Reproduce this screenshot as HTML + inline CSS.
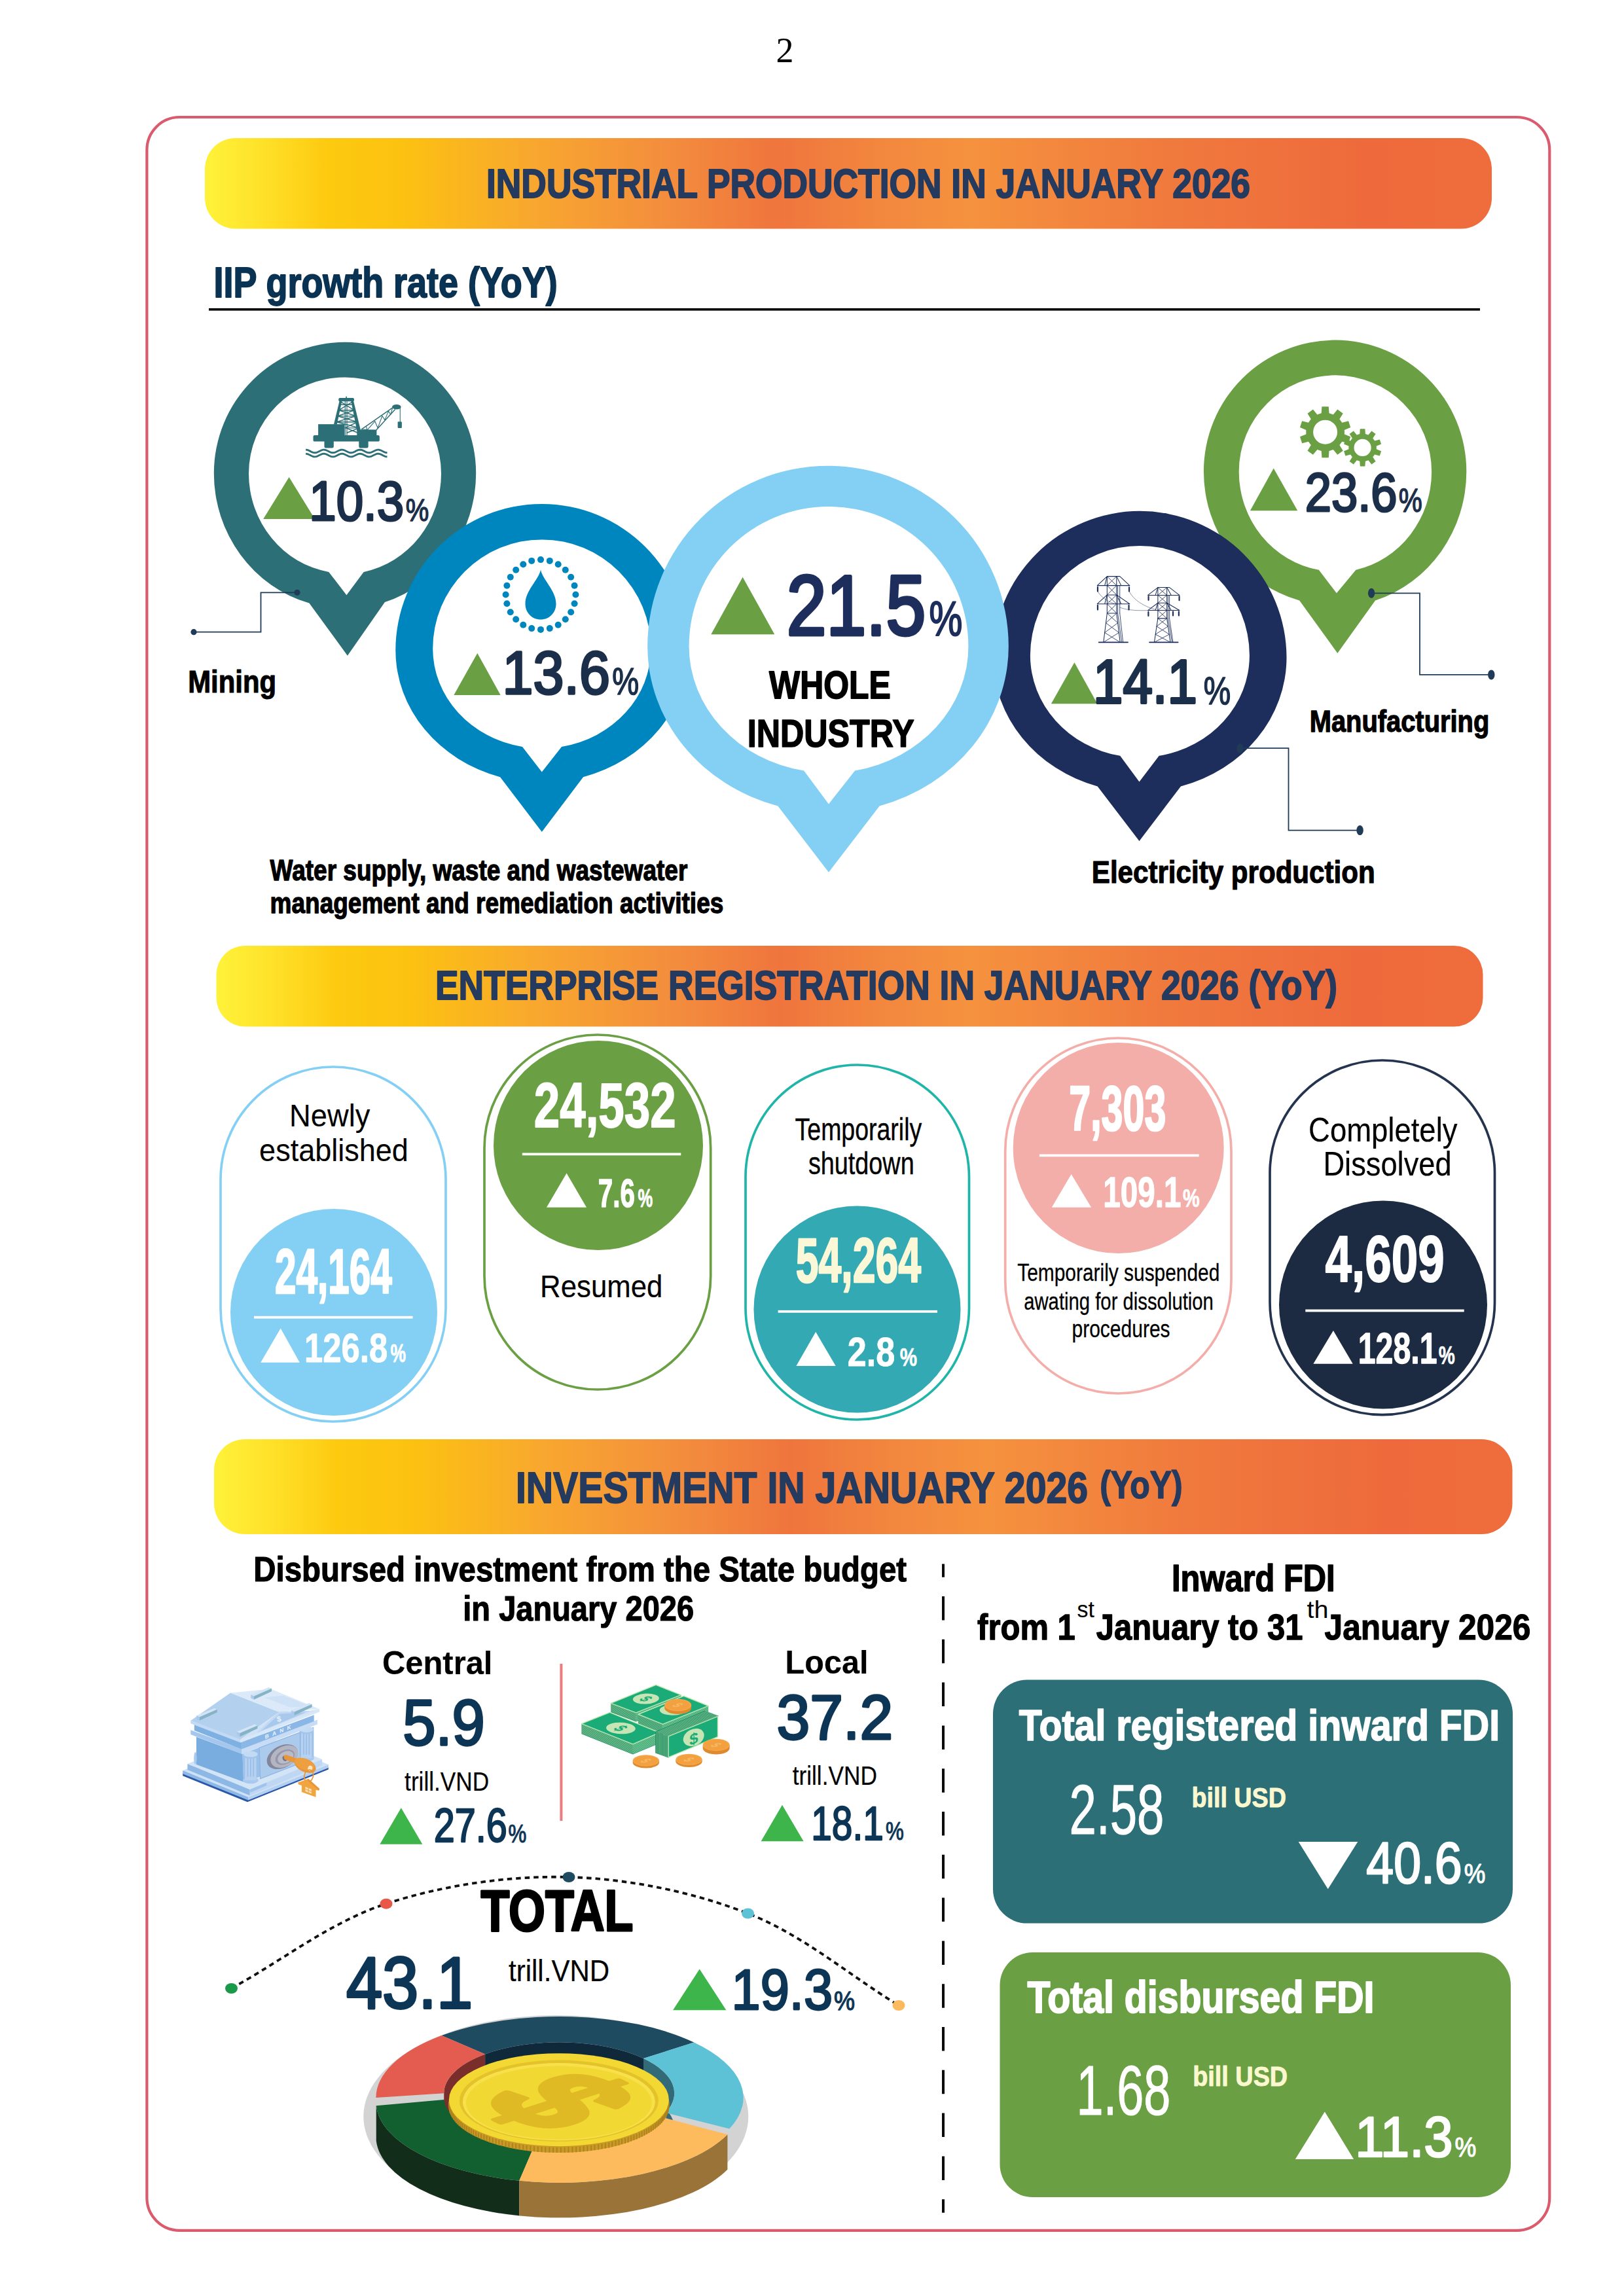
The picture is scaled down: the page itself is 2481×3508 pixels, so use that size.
<!DOCTYPE html>
<html lang="en"><head><meta charset="utf-8"><title>Industrial production, enterprise registration and investment in January 2026</title>
<style>
html,body{margin:0;padding:0;background:#fff}
svg{display:block}
text{font-family:'Liberation Sans', sans-serif;white-space:pre}
.serif{font-family:'Liberation Serif',serif}
</style></head><body>
<svg width="2481" height="3508" viewBox="0 0 2481 3508">
<defs>
<linearGradient id="hg" x1="0" y1="0" x2="1" y2="0">
<stop offset="0" stop-color="#fff23a"/>
<stop offset="0.04" stop-color="#ffe32b"/>
<stop offset="0.095" stop-color="#fdca10"/>
<stop offset="0.15" stop-color="#fcc210"/>
<stop offset="0.255" stop-color="#f8a72f"/>
<stop offset="0.36" stop-color="#f38d3d"/>
<stop offset="0.445" stop-color="#ef753d"/>
<stop offset="0.52" stop-color="#f2863e"/>
<stop offset="0.595" stop-color="#f5923e"/>
<stop offset="0.745" stop-color="#f07a3d"/>
<stop offset="0.90" stop-color="#ee6a3c"/>
<stop offset="1" stop-color="#ef6c3c"/>
</linearGradient>
</defs>
<rect width="2481" height="3508" fill="#fff"/>
<text class="serif" x="1199" y="95" font-size="54" text-anchor="middle">2</text>
<rect x="224.4" y="179" width="2142.9" height="3228.8" rx="50" ry="50" fill="none" stroke="#da5a6e" stroke-width="4.2"/>
<rect x="313" y="211" width="1966" height="138.5" rx="47" fill="url(#hg)"/>
<text x="743.0" y="302.0" font-size="63.6" font-weight="bold" fill="#243a5e" textLength="1167.0" lengthAdjust="spacingAndGlyphs" stroke="#243a5e" stroke-width="2.0" stroke-linejoin="round">INDUSTRIAL PRODUCTION IN JANUARY 2026</text>
<rect x="330.5" y="1445" width="1935" height="123.5" rx="44" fill="url(#hg)"/>
<text x="664.9" y="1526.6" font-size="62.9" font-weight="bold" fill="#243a5e" textLength="1378.2" lengthAdjust="spacingAndGlyphs" stroke="#243a5e" stroke-width="1.8" stroke-linejoin="round">ENTERPRISE REGISTRATION IN JANUARY 2026 (YoY)</text>
<rect x="327" y="2199" width="1983.5" height="145" rx="47" fill="url(#hg)"/>
<text x="787.9" y="2295.6" font-size="66.9" font-weight="bold" fill="#243a5e" textLength="874.2" lengthAdjust="spacingAndGlyphs" stroke="#243a5e" stroke-width="1.8" stroke-linejoin="round">INVESTMENT IN JANUARY 2026</text>
<text x="1680.2" y="2289.2" font-size="58.3" font-weight="bold" fill="#243a5e" textLength="126.5" lengthAdjust="spacingAndGlyphs" stroke="#243a5e" stroke-width="1.5" stroke-linejoin="round">(YoY)</text>
<text x="326.6" y="454.1" font-size="64.2" font-weight="bold" fill="#0a3252" textLength="525.1" lengthAdjust="spacingAndGlyphs" stroke="#0a3252" stroke-width="1.9" stroke-linejoin="round">IIP growth rate (YoY)</text>
<rect x="319" y="471" width="1942" height="3.6" fill="#000"/>
<path d="M326.8,723.0 A200.2,200.2 0 0 1 727.2,723.0 A200.2,206.8 0 0 1 587.9,920.0 L530.9,1001.7 L472.4,921.6 A200.2,206.4 0 0 1 326.8,723.0 Z" fill="#2d6f77"/><path d="M380.0,723.4 A147.0,147.0 0 0 1 674.0,723.4 A147.0,153.4 0 0 1 555.6,873.9 L529.4,909.3 L502.3,873.9 A147.0,152.7 0 0 1 380.0,723.4 Z" fill="#fff"/>
<path d="M1838.9,720.3 A200.7,200.7 0 0 1 2240.3,720.3 A200.7,207.2 0 0 1 2101.0,917.6 L2043.3,997.9 L1985.2,917.6 A200.7,205.0 0 0 1 1838.9,720.3 Z" fill="#6aa043"/><path d="M1892.7,720.5 A147.2,147.2 0 0 1 2187.1,720.5 A147.2,153.9 0 0 1 2071.4,870.8 L2041.9,906.3 L2014.8,870.8 A147.2,152.5 0 0 1 1892.7,720.5 Z" fill="#fff"/>
<path d="M604.3,993.5 A223.5,223.5 0 0 1 1051.3,993.5 A223.5,201.9 0 0 1 891.0,1187.2 L827.8,1270.9 L764.1,1187.2 A223.5,202.1 0 0 1 604.3,993.5 Z" fill="#0086bf"/><path d="M661.2,991.0 A166.6,166.6 0 0 1 994.4,991.0 A166.6,152.5 0 0 1 858.0,1141.0 L827.8,1179.5 L798.0,1141.0 A166.6,152.5 0 0 1 661.2,991.0 Z" fill="#fff"/>
<path d="M1517.3,1004.8 A224.1,224.1 0 0 1 1965.5,1004.8 A224.1,204.7 0 0 1 1803.9,1201.4 L1740.5,1285.0 L1676.7,1201.4 A224.1,205.3 0 0 1 1517.3,1004.8 Z" fill="#1d2e5c"/><path d="M1573.9,1001.4 A167.5,167.5 0 0 1 1908.9,1001.4 A167.5,155.8 0 0 1 1770.7,1154.8 L1740.5,1194.5 L1711.2,1154.8 A167.5,156.0 0 0 1 1573.9,1001.4 Z" fill="#fff"/>
<path d="M989.2,987.4 A275.8,275.8 0 0 1 1540.8,987.4 A275.8,254.7 0 0 1 1343.6,1231.5 L1266.0,1332.8 L1188.4,1231.5 A275.8,254.1 0 0 1 989.2,987.4 Z" fill="#84d0f5"/><path d="M1052.6,987.4 A213.4,213.4 0 0 1 1479.4,987.4 A213.4,193.6 0 0 1 1306.1,1177.6 L1266.0,1228.4 L1228.1,1177.6 A213.4,193.3 0 0 1 1052.6,987.4 Z" fill="#fff"/>
<polygon points="402.2,793.1 481.0,793.1 441.6,729.0" fill="#6aa043"/>
<text x="472.2" y="795.0" font-size="84.8" fill="#1c2f4a" textLength="145.1" lengthAdjust="spacingAndGlyphs" stroke="#1c2f4a" stroke-width="3.2" stroke-linejoin="round">10.3</text>
<text x="619.8" y="795.9" font-size="48.8" fill="#1c2f4a" textLength="35.5" lengthAdjust="spacingAndGlyphs" stroke="#1c2f4a" stroke-width="1.5" stroke-linejoin="round">%</text>
<text x="287.2" y="1057.9" font-size="47.9" font-weight="bold" textLength="134.9" lengthAdjust="spacingAndGlyphs" stroke="#000" stroke-width="1.1" stroke-linejoin="round">Mining</text>
<polygon points="693.3,1062.0 764.7,1062.0 729.3,997.9" fill="#6aa043"/>
<text x="767.5" y="1060.2" font-size="93.3" fill="#1c2f4a" textLength="164.4" lengthAdjust="spacingAndGlyphs" stroke="#1c2f4a" stroke-width="3.6" stroke-linejoin="round">13.6</text>
<text x="935.3" y="1061.2" font-size="57.7" fill="#1c2f4a" textLength="40.9" lengthAdjust="spacingAndGlyphs" stroke="#1c2f4a" stroke-width="1.6" stroke-linejoin="round">%</text>
<text x="412.6" y="1345.3" font-size="43.6" font-weight="bold" textLength="637.7" lengthAdjust="spacingAndGlyphs" stroke="#000" stroke-width="1.3" stroke-linejoin="round">Water supply, waste and wastewater</text>
<text x="412.6" y="1395.3" font-size="43.6" font-weight="bold" textLength="692.7" lengthAdjust="spacingAndGlyphs" stroke="#000" stroke-width="1.3" stroke-linejoin="round">management and remediation activities</text>
<polygon points="1086.3,969.3 1183.3,969.3 1134.6,881.8" fill="#6aa043"/>
<text x="1201.7" y="969.8" font-size="129.8" fill="#1d2e5c" textLength="212.7" lengthAdjust="spacingAndGlyphs" stroke="#1d2e5c" stroke-width="5" stroke-linejoin="round">21.5</text>
<text x="1419.6" y="971.2" font-size="74.8" fill="#1d2e5c" textLength="50.8" lengthAdjust="spacingAndGlyphs" stroke="#1d2e5c" stroke-width="2.2" stroke-linejoin="round">%</text>
<text x="1175.1" y="1066.8" font-size="59.9" font-weight="bold" textLength="185.7" lengthAdjust="spacingAndGlyphs" stroke="#000" stroke-width="1.8" stroke-linejoin="round">WHOLE</text>
<text x="1141.8" y="1141.4" font-size="59.2" font-weight="bold" textLength="254.9" lengthAdjust="spacingAndGlyphs" stroke="#000" stroke-width="1.6" stroke-linejoin="round">INDUSTRY</text>
<polygon points="1605.9,1075.3 1676.4,1075.3 1641.4,1012.2" fill="#6aa043"/>
<text x="1670.0" y="1074.3" font-size="94.2" fill="#1c2f4a" textLength="159.0" lengthAdjust="spacingAndGlyphs" stroke="#1c2f4a" stroke-width="4" stroke-linejoin="round">14.1</text>
<text x="1838.8" y="1075.5" font-size="59.7" fill="#1c2f4a" textLength="41.4" lengthAdjust="spacingAndGlyphs" stroke="#1c2f4a" stroke-width="1.6" stroke-linejoin="round">%</text>
<text x="1667.8" y="1349.1" font-size="48.3" font-weight="bold" textLength="432.9" lengthAdjust="spacingAndGlyphs" stroke="#000" stroke-width="1.2" stroke-linejoin="round">Electricity production</text>
<polygon points="1909.9,780.2 1982.3,780.2 1945.7,715.5" fill="#6aa043"/>
<text x="1993.8" y="780.7" font-size="83.4" fill="#1c2f4a" textLength="140.8" lengthAdjust="spacingAndGlyphs" stroke="#1c2f4a" stroke-width="3.2" stroke-linejoin="round">23.6</text>
<text x="2136.8" y="781.5" font-size="49.8" fill="#1c2f4a" textLength="36.0" lengthAdjust="spacingAndGlyphs" stroke="#1c2f4a" stroke-width="1.5" stroke-linejoin="round">%</text>
<text x="2000.7" y="1117.9" font-size="46.6" font-weight="bold" textLength="274.6" lengthAdjust="spacingAndGlyphs" stroke="#000" stroke-width="1.3" stroke-linejoin="round">Manufacturing</text>
<path d="M296.0,965.7 L398.5,965.7 L398.5,905.3 L454.0,905.3" fill="none" stroke="#1f3b57" stroke-width="1.8"/><ellipse cx="296.0" cy="965.7" rx="4.6" ry="4.6" fill="#1f3b57"/><ellipse cx="454.0" cy="905.3" rx="4.6" ry="4.6" fill="#1f3b57"/>
<path d="M2095.1,906.3 L2169.0,906.3 L2169.0,1030.9 L2278.3,1030.9" fill="none" stroke="#1f3b57" stroke-width="1.8"/><ellipse cx="2095.1" cy="906.3" rx="5.2" ry="7.5" fill="#1f3b57"/><ellipse cx="2278.3" cy="1030.9" rx="5.2" ry="7.5" fill="#1f3b57"/>
<path d="M1894.4,1143.2 L1968.5,1143.2 L1968.5,1268.6 L2077.6,1268.6" fill="none" stroke="#1f3b57" stroke-width="1.8"/><ellipse cx="1894.4" cy="1143.2" rx="5.2" ry="7.5" fill="#1f3b57"/><ellipse cx="2077.6" cy="1268.6" rx="5.2" ry="7.5" fill="#1f3b57"/>
<g transform="translate(420,580) scale(0.13547)" fill="#2d6f77" stroke="#2d6f77" stroke-linecap="round" stroke-linejoin="round"><rect x="718" y="207" width="175" height="38" rx="14" stroke="none"/><rect x="799" y="190" width="12" height="25" stroke="none"/><polygon points="728,240 756,240 700,505 664,505" stroke="none"/><polygon points="858,240 886,240 968,575 925,575" stroke="none"/><path d="M792,245V630 M812,245V630" stroke-width="9" fill="none"/><path d="M735,282H880 M722,345H895 M708,412H912 M695,478H930 M800,545H950" stroke-width="10" fill="none"/><path d="M742,250L893,345 M875,250L722,345 M722,345L912,412 M895,345L708,412 M708,412L930,478 M912,412L695,478 M695,478L950,545 M930,478L790,545 M800,545L935,600 M950,545L812,600" stroke-width="11" fill="none"/><rect x="488" y="503" width="297" height="130" stroke="none"/><rect x="925" y="567" width="222" height="66" stroke="none"/><rect x="432" y="628" width="748" height="70" rx="16" stroke="none"/><path d="M557,690H663V755Q663,772 646,772H574Q557,772 557,755Z M947,690H1053V755Q1053,772 1036,772H964Q947,772 947,755Z" stroke="none"/><path d="M975,562L1325,318 M1140,572L1352,340" stroke-width="11" fill="none"/><path d="M1030,528L1040,570 M1040,570L1128,470 M1128,470L1160,545 M1160,545L1210,410 M1210,410L1240,455 M1240,455L1280,355 M1280,355L1305,395 M1305,395L1325,322 M985,562L1140,570" stroke-width="8" fill="none"/><ellipse cx="1372" cy="308" rx="50" ry="28" stroke="none"/><path d="M1412,320V480" stroke-width="8" fill="none"/><rect x="1385" y="474" width="46" height="72" rx="8" stroke="none"/><path d="M350,782 Q400,812 450,812 T552,782 T654,812 T756,782 T858,812 T960,782 T1062,812 T1164,812 T1265,782" fill="none" stroke-width="0"/><path d="M348,791.0 L356,791.5 L363,792.9 L371,795.1 L379,798.0 L386,801.5 L394,805.3 L402,809.3 L409,813.3 L417,816.9 L424,820.0 L432,822.5 L440,824.2 L447,824.9 L455,824.8 L463,823.7 L470,821.8 L478,819.0 L486,815.7 L493,812.0 L501,808.0 L509,804.0 L516,800.3 L524,797.0 L532,794.2 L539,792.3 L547,791.2 L555,791.1 L562,791.8 L570,793.5 L578,796.0 L585,799.1 L593,802.7 L600,806.7 L608,810.7 L616,814.5 L623,818.0 L631,820.9 L639,823.1 L646,824.5 L654,825.0 L662,824.5 L669,823.1 L677,820.9 L685,818.0 L692,814.5 L700,810.7 L708,806.7 L715,802.7 L723,799.1 L730,796.0 L738,793.5 L746,791.8 L753,791.1 L761,791.2 L769,792.3 L776,794.2 L784,797.0 L792,800.3 L799,804.0 L807,808.0 L815,812.0 L822,815.7 L830,819.0 L838,821.8 L845,823.7 L853,824.8 L861,824.9 L868,824.2 L876,822.5 L884,820.0 L891,816.9 L899,813.3 L906,809.3 L914,805.3 L922,801.5 L929,798.0 L937,795.1 L945,792.9 L952,791.5 L960,791.0 L968,791.5 L975,792.9 L983,795.1 L991,798.0 L998,801.5 L1006,805.3 L1014,809.3 L1021,813.3 L1029,816.9 L1036,820.0 L1044,822.5 L1052,824.2 L1059,824.9 L1067,824.8 L1075,823.7 L1082,821.8 L1090,819.0 L1098,815.7 L1105,812.0 L1113,808.0 L1121,804.0 L1128,800.3 L1136,797.0 L1144,794.2 L1151,792.3 L1159,791.2 L1167,791.1 L1174,791.8 L1182,793.5 L1190,796.0 L1197,799.1 L1205,802.7 L1212,806.7 L1220,810.7 L1228,814.5 L1235,818.0 L1243,820.9 L1251,823.1 L1258,824.5 L1266,825.0" fill="none" stroke-width="21" stroke-linecap="butt"/><path d="M348,836.0 L356,836.5 L363,837.9 L371,840.1 L379,843.0 L386,846.5 L394,850.3 L402,854.3 L409,858.3 L417,861.9 L424,865.0 L432,867.5 L440,869.2 L447,869.9 L455,869.8 L463,868.7 L470,866.8 L478,864.0 L486,860.7 L493,857.0 L501,853.0 L509,849.0 L516,845.3 L524,842.0 L532,839.2 L539,837.3 L547,836.2 L555,836.1 L562,836.8 L570,838.5 L578,841.0 L585,844.1 L593,847.7 L600,851.7 L608,855.7 L616,859.5 L623,863.0 L631,865.9 L639,868.1 L646,869.5 L654,870.0 L662,869.5 L669,868.1 L677,865.9 L685,863.0 L692,859.5 L700,855.7 L708,851.7 L715,847.7 L723,844.1 L730,841.0 L738,838.5 L746,836.8 L753,836.1 L761,836.2 L769,837.3 L776,839.2 L784,842.0 L792,845.3 L799,849.0 L807,853.0 L815,857.0 L822,860.7 L830,864.0 L838,866.8 L845,868.7 L853,869.8 L861,869.9 L868,869.2 L876,867.5 L884,865.0 L891,861.9 L899,858.3 L906,854.3 L914,850.3 L922,846.5 L929,843.0 L937,840.1 L945,837.9 L952,836.5 L960,836.0 L968,836.5 L975,837.9 L983,840.1 L991,843.0 L998,846.5 L1006,850.3 L1014,854.3 L1021,858.3 L1029,861.9 L1036,865.0 L1044,867.5 L1052,869.2 L1059,869.9 L1067,869.8 L1075,868.7 L1082,866.8 L1090,864.0 L1098,860.7 L1105,857.0 L1113,853.0 L1121,849.0 L1128,845.3 L1136,842.0 L1144,839.2 L1151,837.3 L1159,836.2 L1167,836.1 L1174,836.8 L1182,838.5 L1190,841.0 L1197,844.1 L1205,847.7 L1212,851.7 L1220,855.7 L1228,859.5 L1235,863.0 L1243,865.9 L1251,868.1 L1258,869.5 L1266,870.0" fill="none" stroke-width="21" stroke-linecap="butt"/></g>
<g fill="#0086bf"><circle cx="826.0" cy="855.1" r="5"/><circle cx="839.8" cy="856.9" r="5"/><circle cx="852.7" cy="862.3" r="5"/><circle cx="863.8" cy="870.7" r="5"/><circle cx="872.2" cy="881.8" r="5"/><circle cx="877.6" cy="894.7" r="5"/><circle cx="879.4" cy="908.5" r="5"/><circle cx="877.6" cy="922.3" r="5"/><circle cx="872.2" cy="935.2" r="5"/><circle cx="863.8" cy="946.3" r="5"/><circle cx="852.7" cy="954.7" r="5"/><circle cx="839.8" cy="960.1" r="5"/><circle cx="826.0" cy="961.9" r="5"/><circle cx="812.2" cy="960.1" r="5"/><circle cx="799.3" cy="954.7" r="5"/><circle cx="788.2" cy="946.3" r="5"/><circle cx="779.8" cy="935.2" r="5"/><circle cx="774.4" cy="922.3" r="5"/><circle cx="772.6" cy="908.5" r="5"/><circle cx="774.4" cy="894.7" r="5"/><circle cx="779.8" cy="881.8" r="5"/><circle cx="788.2" cy="870.7" r="5"/><circle cx="799.3" cy="862.3" r="5"/><circle cx="812.2" cy="856.9" r="5"/><path d="M826,870.5 C829,886 849.5,902 849.5,922.5 C849.5,936 839.5,946.5 826,946.5 C812.5,946.5 802.5,936 802.5,922.5 C802.5,902 823,886 826,870.5 Z"/></g>
<path d="M2018.7,631.3 L2019.4,621.2 L2029.8,621.2 L2030.5,631.3 L2036.8,633.4 L2043.3,625.6 L2051.7,631.7 L2046.4,640.3 L2050.3,645.7 L2060.1,643.2 L2063.2,653.1 L2053.9,656.9 L2053.9,663.5 L2063.2,667.3 L2060.1,677.2 L2050.3,674.7 L2046.4,680.1 L2051.7,688.7 L2043.3,694.8 L2036.8,687.0 L2030.5,689.1 L2029.8,699.2 L2019.4,699.2 L2018.7,689.1 L2012.4,687.0 L2005.9,694.8 L1997.5,688.7 L2002.8,680.1 L1998.9,674.7 L1989.1,677.2 L1986.0,667.3 L1995.3,663.5 L1995.3,656.9 L1986.0,653.1 L1989.1,643.2 L1998.9,645.7 L2002.8,640.3 L1997.5,631.7 L2005.9,625.6 L2012.4,633.4 Z M2043.1,660.2 A18.5,18.5 0 1 0 2006.1,660.2 A18.5,18.5 0 1 0 2043.1,660.2 Z" fill="#6aa043" fill-rule="evenodd"/>
<path d="M2077.3,663.0 L2077.8,655.2 L2085.4,655.2 L2085.9,663.0 L2090.4,664.5 L2095.4,658.4 L2101.6,662.9 L2097.3,669.5 L2100.1,673.4 L2107.8,671.4 L2110.1,678.6 L2102.8,681.5 L2102.8,686.3 L2110.1,689.2 L2107.8,696.4 L2100.1,694.4 L2097.3,698.3 L2101.6,704.9 L2095.4,709.4 L2090.4,703.3 L2085.9,704.8 L2085.4,712.6 L2077.8,712.6 L2077.3,704.8 L2072.8,703.3 L2067.8,709.4 L2061.6,704.9 L2065.9,698.3 L2063.1,694.4 L2055.4,696.4 L2053.1,689.2 L2060.4,686.3 L2060.4,681.5 L2053.1,678.6 L2055.4,671.4 L2063.1,673.4 L2065.9,669.5 L2061.6,662.9 L2067.8,658.4 L2072.8,664.5 Z M2094.7,683.9 A13.1,13.1 0 1 0 2068.5,683.9 A13.1,13.1 0 1 0 2094.7,683.9 Z" fill="#6aa043" fill-rule="evenodd"/>
<g transform="translate(1660,870) scale(0.09852)" fill="none" stroke="#1d2e5c" stroke-width="10.5" stroke-linecap="round" stroke-linejoin="round"><path d="M318,108H515 M165,250H668 M318,108L165,250 M515,108L668,250 M318,108L281,250 M465,108L536,250"/><path d="M318,395L165,535 M465,395L668,535 M165,535H668 M318,395H465 M318,680H465 M318,395L281,535 M465,395L536,535"/><path d="M318,108V680 M465,108V680"/><path d="M483,250V680 M515,250V680" stroke-width="8.5"/><path d="M318,108L465,250 M465,108L318,250" stroke-width="8.5"/><path d="M318,250L465,395 M465,250L318,395" stroke-width="8.5"/><path d="M318,395L465,535 M465,395L318,535" stroke-width="8.5"/><path d="M318,535L465,680 M465,535L318,680" stroke-width="8.5"/><path d="M318,680L262,1130 M465,680L520,1130"/><path d="M515,680L565,1130 M483,680L545,1130" stroke-width="8.5"/><path d="M318,680L483,830 M465,680L299,830" stroke-width="8.5"/><path d="M299,830L502,980 M483,830L281,980" stroke-width="8.5"/><path d="M281,980L520,1130 M502,980L262,1130" stroke-width="8.5"/><path d="M190,1130H640" stroke-width="18"/><path d="M1105,280H1285 M950,400H1440 M1105,280L950,400 M1285,280L1440,400 M1105,280L1067,400 M1245,280L1312,400"/><path d="M1105,520L950,635 M1245,520L1440,635 M950,635H1440 M1105,520H1245 M1105,760H1245 M1105,520L1067,635 M1245,520L1312,635"/><path d="M1105,280V760 M1245,280V760"/><path d="M1263,400V760 M1285,400V760" stroke-width="8.5"/><path d="M1105,280L1245,400 M1245,280L1105,400" stroke-width="8.5"/><path d="M1105,400L1245,520 M1245,400L1105,520" stroke-width="8.5"/><path d="M1105,520L1245,635 M1245,520L1105,635" stroke-width="8.5"/><path d="M1105,635L1245,760 M1245,635L1105,760" stroke-width="8.5"/><path d="M1105,760L1050,1130 M1245,760L1300,1130"/><path d="M1285,760L1340,1130 M1263,760L1325,1130" stroke-width="8.5"/><path d="M1105,760L1263,883 M1245,760L1087,883" stroke-width="8.5"/><path d="M1087,883L1282,1007 M1263,883L1068,1007" stroke-width="8.5"/><path d="M1068,1007L1300,1130 M1282,1007L1050,1130" stroke-width="8.5"/><path d="M975,1130H1418" stroke-width="18"/><path d="M172,250V275" stroke-width="5"/><path d="M172,275V340" stroke-width="22"/><path d="M660,255V280" stroke-width="5"/><path d="M660,280V340" stroke-width="22"/><path d="M172,535V560" stroke-width="5"/><path d="M172,560V625" stroke-width="22"/><path d="M655,535V560" stroke-width="5"/><path d="M655,560V625" stroke-width="22"/><path d="M960,395V420" stroke-width="5"/><path d="M960,420V475" stroke-width="22"/><path d="M1437,395V420" stroke-width="5"/><path d="M1437,420V480" stroke-width="22"/><path d="M958,635V660" stroke-width="5"/><path d="M958,660V720" stroke-width="22"/><path d="M1340,630V655" stroke-width="5"/><path d="M1340,655V715" stroke-width="22"/><path d="M1430,630V655" stroke-width="5"/><path d="M1430,655V715" stroke-width="22"/><path d="M660,340C720,470 900,580 1060,620 M515,590C650,640 820,640 955,635 M172,340C230,440 340,510 450,535" stroke-width="5"/></g>
<rect x="337" y="1630" width="344.0" height="542.0" rx="172.0" fill="none" stroke="#84d0f5" stroke-width="3.7"/>
<circle cx="510" cy="2005" r="158" fill="#84d0f5"/>
<text x="442.1" y="1721.4" font-size="48.9" textLength="123.4" lengthAdjust="spacingAndGlyphs" stroke="#000" stroke-width="0.1" stroke-linejoin="round">Newly</text>
<text x="396.1" y="1773.5" font-size="48.9" textLength="227.7" lengthAdjust="spacingAndGlyphs" stroke="#000" stroke-width="0.1" stroke-linejoin="round">established</text>
<text x="419.9" y="1975.5" font-size="96.1" font-weight="bold" fill="#fff" textLength="178.8" lengthAdjust="spacingAndGlyphs" stroke="#fff" stroke-width="2.7" stroke-linejoin="round">24,164</text>
<rect x="388" y="2010.8" width="242.5" height="3.8" fill="#fff"/>
<polygon points="398.2,2081.7 457.8,2081.7 428.7,2029.6" fill="#fff"/>
<text x="465.1" y="2081.2" font-size="63.7" font-weight="bold" fill="#fff" textLength="127.1" lengthAdjust="spacingAndGlyphs" stroke="#fff" stroke-width="0.9" stroke-linejoin="round">126.8</text>
<text x="596.4" y="2081.3" font-size="38.8" font-weight="bold" fill="#fff" textLength="23.6" lengthAdjust="spacingAndGlyphs" stroke="#fff" stroke-width="0.8" stroke-linejoin="round">%</text>
<rect x="740" y="1581" width="345.7" height="542.0" rx="172.9" fill="none" stroke="#6aa043" stroke-width="3.7"/>
<circle cx="914" cy="1750" r="160" fill="#6aa043"/>
<text x="815.8" y="1721.8" font-size="97.2" font-weight="bold" fill="#fff" textLength="216.8" lengthAdjust="spacingAndGlyphs" stroke="#fff" stroke-width="1.9" stroke-linejoin="round">24,532</text>
<rect x="797.8" y="1761.5" width="242.5" height="3.8" fill="#fff"/>
<polygon points="835.0,1844.7 896.0,1844.7 865.6,1792.5" fill="#fff"/>
<text x="913.8" y="1844.0" font-size="60.8" font-weight="bold" fill="#fff" textLength="56.0" lengthAdjust="spacingAndGlyphs" stroke="#fff" stroke-width="1.5" stroke-linejoin="round">7.6</text>
<text x="974.5" y="1844.2" font-size="38.7" font-weight="bold" fill="#fff" textLength="22.7" lengthAdjust="spacingAndGlyphs" stroke="#fff" stroke-width="0.9" stroke-linejoin="round">%</text>
<text x="825.1" y="1982.1" font-size="48.7" textLength="187.3" lengthAdjust="spacingAndGlyphs" stroke="#000" stroke-width="0.2" stroke-linejoin="round">Resumed</text>
<rect x="1139" y="1627" width="341.5" height="542.0" rx="170.8" fill="none" stroke="#1fb5a8" stroke-width="3.7"/>
<circle cx="1309.5" cy="2000.5" r="158" fill="#33aab3"/>
<text x="1214.6" y="1741.5" font-size="48.4" textLength="193.6" lengthAdjust="spacingAndGlyphs" stroke="#000" stroke-width="0.4" stroke-linejoin="round">Temporarily</text>
<text x="1234.9" y="1793.7" font-size="48.4" textLength="161.8" lengthAdjust="spacingAndGlyphs" stroke="#000" stroke-width="0.4" stroke-linejoin="round">shutdown</text>
<text x="1215.7" y="1958.5" font-size="96.4" font-weight="bold" fill="#fbf8d8" textLength="191.5" lengthAdjust="spacingAndGlyphs" stroke="#fbf8d8" stroke-width="2.5" stroke-linejoin="round">54,264</text>
<rect x="1188.6" y="2001.9" width="243.4" height="3.8" fill="#fff"/>
<polygon points="1216.4,2087.0 1276.7,2087.0 1246.2,2035.0" fill="#fff"/>
<text x="1294.7" y="2086.6" font-size="63.8" font-weight="bold" fill="#fff" textLength="72.6" lengthAdjust="spacingAndGlyphs" stroke="#fff" stroke-width="0.8" stroke-linejoin="round">2.8</text>
<text x="1374.8" y="2086.7" font-size="39.0" font-weight="bold" fill="#fff" textLength="26.3" lengthAdjust="spacingAndGlyphs" stroke="#fff" stroke-width="0.7" stroke-linejoin="round">%</text>
<rect x="1535.7" y="1586" width="345.3" height="543.0" rx="172.6" fill="none" stroke="#f4aea9" stroke-width="3.7"/>
<circle cx="1708.7" cy="1754" r="161" fill="#f4aea9"/>
<text x="1633.2" y="1726.9" font-size="96.1" font-weight="bold" fill="#fff" textLength="148.3" lengthAdjust="spacingAndGlyphs" stroke="#fff" stroke-width="2.7" stroke-linejoin="round">7,303</text>
<rect x="1587.9" y="1763.5" width="243.8" height="3.8" fill="#fff"/>
<polygon points="1606.8,1844.7 1667.1,1844.7 1636.6,1793.9" fill="#fff"/>
<text x="1685.2" y="1844.0" font-size="65.1" font-weight="bold" fill="#fff" textLength="119.2" lengthAdjust="spacingAndGlyphs" stroke="#fff" stroke-width="1.3" stroke-linejoin="round">109.1</text>
<text x="1806.9" y="1844.4" font-size="39.0" font-weight="bold" fill="#fff" textLength="25.7" lengthAdjust="spacingAndGlyphs" stroke="#fff" stroke-width="0.7" stroke-linejoin="round">%</text>
<text x="1554.2" y="1956.9" font-size="37.6" textLength="309.2" lengthAdjust="spacingAndGlyphs" stroke="#000" stroke-width="0.3" stroke-linejoin="round">Temporarily suspended</text>
<text x="1564.2" y="2000.9" font-size="37.6" textLength="289.7" lengthAdjust="spacingAndGlyphs" stroke="#000" stroke-width="0.3" stroke-linejoin="round">awating for dissolution</text>
<text x="1637.5" y="2042.8" font-size="37.6" textLength="150.1" lengthAdjust="spacingAndGlyphs" stroke="#000" stroke-width="0.3" stroke-linejoin="round">procedures</text>
<rect x="1940" y="1620" width="343.5" height="541.7" rx="171.8" fill="none" stroke="#24344f" stroke-width="3.7"/>
<circle cx="2113" cy="1993.5" r="159" fill="#1c2b41"/>
<text x="1999.1" y="1743.7" font-size="51.7" textLength="227.4" lengthAdjust="spacingAndGlyphs" stroke="#000" stroke-width="0.2" stroke-linejoin="round">Completely</text>
<text x="2021.4" y="1795.8" font-size="51.7" textLength="196.3" lengthAdjust="spacingAndGlyphs" stroke="#000" stroke-width="0.2" stroke-linejoin="round">Dissolved</text>
<text x="2024.4" y="1957.5" font-size="99.2" font-weight="bold" fill="#fff" textLength="182.3" lengthAdjust="spacingAndGlyphs" stroke="#fff" stroke-width="1.9" stroke-linejoin="round">4,609</text>
<rect x="1994.3" y="2000.6" width="242.4" height="3.8" fill="#fff"/>
<polygon points="2006.4,2083.8 2066.7,2083.8 2036.9,2033.0" fill="#fff"/>
<text x="2074.8" y="2083.2" font-size="66.1" font-weight="bold" fill="#fff" textLength="120.7" lengthAdjust="spacingAndGlyphs" stroke="#fff" stroke-width="1.3" stroke-linejoin="round">128.1</text>
<text x="2197.8" y="2083.5" font-size="39.0" font-weight="bold" fill="#fff" textLength="25.0" lengthAdjust="spacingAndGlyphs" stroke="#fff" stroke-width="0.7" stroke-linejoin="round">%</text>
<text x="387.3" y="2415.9" font-size="53.8" font-weight="bold" textLength="997.8" lengthAdjust="spacingAndGlyphs" stroke="#000" stroke-width="1.2" stroke-linejoin="round">Disbursed investment from the State budget</text>
<text x="707.3" y="2476.4" font-size="53.8" font-weight="bold" textLength="352.8" lengthAdjust="spacingAndGlyphs" stroke="#000" stroke-width="1.2" stroke-linejoin="round">in January 2026</text>
<text x="584.1" y="2558.2" font-size="49.7" font-weight="bold" textLength="168.3" lengthAdjust="spacingAndGlyphs" stroke="#000" stroke-width="0.2" stroke-linejoin="round">Central</text>
<text x="615.2" y="2666.0" font-size="98.2" fill="#0d3556" textLength="125.7" lengthAdjust="spacingAndGlyphs" stroke="#0d3556" stroke-width="3.3" stroke-linejoin="round">5.9</text>
<text x="618.1" y="2735.6" font-size="40.7" textLength="129.1" lengthAdjust="spacingAndGlyphs" stroke="#000" stroke-width="0.2" stroke-linejoin="round">trill.VND</text>
<polygon points="580.3,2817.7 645.3,2817.7 612.8,2762.3" fill="#3db54a"/>
<text x="662.8" y="2814.3" font-size="71.7" fill="#0d3556" textLength="112.1" lengthAdjust="spacingAndGlyphs" stroke="#0d3556" stroke-width="2.3" stroke-linejoin="round">27.6</text>
<text x="776.6" y="2814.9" font-size="39.3" fill="#0d3556" textLength="27.8" lengthAdjust="spacingAndGlyphs" stroke="#0d3556" stroke-width="1.2" stroke-linejoin="round">%</text>
<rect x="855.4" y="2542" width="4" height="240" fill="#eb7c80"/>
<text x="1199.6" y="2556.8" font-size="49.7" font-weight="bold" textLength="126.8" lengthAdjust="spacingAndGlyphs" stroke="#000" stroke-width="0.2" stroke-linejoin="round">Local</text>
<text x="1186.5" y="2657.2" font-size="96.2" fill="#0d3556" textLength="177.7" lengthAdjust="spacingAndGlyphs" stroke="#0d3556" stroke-width="3.3" stroke-linejoin="round">37.2</text>
<text x="1210.7" y="2726.7" font-size="40.7" textLength="129.2" lengthAdjust="spacingAndGlyphs" stroke="#000" stroke-width="0.2" stroke-linejoin="round">trill.VND</text>
<polygon points="1162.6,2813.3 1227.6,2813.3 1195.0,2757.8" fill="#3db54a"/>
<text x="1239.2" y="2810.7" font-size="71.7" fill="#0d3556" textLength="110.7" lengthAdjust="spacingAndGlyphs" stroke="#0d3556" stroke-width="2.3" stroke-linejoin="round">18.1</text>
<text x="1353.1" y="2811.2" font-size="39.3" fill="#0d3556" textLength="27.8" lengthAdjust="spacingAndGlyphs" stroke="#0d3556" stroke-width="1.2" stroke-linejoin="round">%</text>
<text x="734.5" y="2950.0" font-size="88.7" font-weight="bold" textLength="233.0" lengthAdjust="spacingAndGlyphs" stroke="#000" stroke-width="3.0" stroke-linejoin="round">TOTAL</text>
<text x="528.9" y="3067.9" font-size="110.5" fill="#0d3556" textLength="193.2" lengthAdjust="spacingAndGlyphs" stroke="#0d3556" stroke-width="3.8" stroke-linejoin="round">43.1</text>
<text x="777.0" y="3026.8" font-size="46.7" textLength="154.2" lengthAdjust="spacingAndGlyphs" stroke="#000" stroke-width="0.2" stroke-linejoin="round">trill.VND</text>
<polygon points="1028.1,3071.2 1109.4,3071.2 1068.7,3008.4" fill="#3db54a"/>
<text x="1117.5" y="3069.8" font-size="86.8" fill="#0d3556" textLength="154.6" lengthAdjust="spacingAndGlyphs" stroke="#0d3556" stroke-width="2.9" stroke-linejoin="round">19.3</text>
<text x="1274.1" y="3070.5" font-size="41.1" fill="#0d3556" textLength="32.0" lengthAdjust="spacingAndGlyphs" stroke="#0d3556" stroke-width="1.3" stroke-linejoin="round">%</text>
<path d="M353.5,3038 C432.3,2994.9 504.1,2937.0 590,2908.7 C675.9,2880.4 776.9,2865.5 869,2868 C961.1,2870.5 1058.6,2890.8 1142.6,2923.5 C1226.6,2956.2 1296.2,3017.2 1373,3064" fill="none" stroke="#111" stroke-width="3.8" stroke-dasharray="7.5 6"/>
<ellipse cx="353.5" cy="3038" rx="9.5" ry="8" fill="#1a9a48"/>
<ellipse cx="590" cy="2908.7" rx="9.5" ry="8" fill="#e8574a"/>
<ellipse cx="869" cy="2868" rx="9.5" ry="8" fill="#1f4b60"/>
<ellipse cx="1142.6" cy="2923.5" rx="9.5" ry="8" fill="#5ec2d6"/>
<ellipse cx="1373" cy="3064" rx="9.5" ry="8" fill="#fdb95e"/>
<g transform="translate(260,2560) scale(0.1601)"><polygon points="120,930 740,1185 1510,872 1510,897 737,1207 120,957" fill="#2a57a8" /><polygon points="120,905 745,1160 1510,850 885,600" fill="#cfe1f6" /><polygon points="120,905 745,1160 745,1190 120,938" fill="#8db8e6" /><polygon points="745,1160 1510,850 1510,880 745,1190" fill="#b4d0f0" /><polygon points="165,843 760,1088 1450,800 855,560" fill="#d3e4f7" /><polygon points="165,843 760,1088 760,1145 165,900" fill="#8db8e6" /><polygon points="760,1088 1450,800 1450,855 760,1145" fill="#bfd7f2" /><polygon points="760,1088 920,1022 920,1050 760,1118" fill="#9fc3ea" /><polygon points="250,585 690,750 700,1015 250,850" fill="#79acdf" /><polygon points="690,750 1370,490 1370,800 700,1015" fill="#9bc0e9" /><polygon points="850,690 1240,542 1240,838 860,985" fill="#abcaec" stroke="#8fb7e3" stroke-width="8"/><ellipse cx="767.5" cy="1000" rx="74.5" ry="32" fill="#a9c9ee"/><rect x="713" y="745" width="109" height="255" fill="#b7d2f1"/><rect x="735" y="790" width="10" height="175" fill="#98bde8"/><rect x="762" y="790" width="10" height="175" fill="#98bde8"/><rect x="790" y="790" width="10" height="175" fill="#98bde8"/><ellipse cx="767.5" cy="767" rx="68.5" ry="28" fill="#a3c5ec"/><ellipse cx="767.5" cy="750" rx="68.5" ry="28" fill="#c3daf4"/><ellipse cx="1300.0" cy="790" rx="72.0" ry="32" fill="#a9c9ee"/><rect x="1248" y="510" width="104" height="280" fill="#b7d2f1"/><rect x="1269" y="555" width="10" height="200" fill="#98bde8"/><rect x="1295" y="555" width="10" height="200" fill="#98bde8"/><rect x="1321" y="555" width="10" height="200" fill="#98bde8"/><ellipse cx="1300.0" cy="532" rx="66.0" ry="28" fill="#a3c5ec"/><ellipse cx="1300.0" cy="515" rx="66.0" ry="28" fill="#c3daf4"/><ellipse cx="240" cy="790" rx="14" ry="60" fill="#a9c9ee"/><polygon points="195,520 682,700 682,748 195,562" fill="#a6c7ed" /><polygon points="682,700 1405,422 1405,466 682,748" fill="#c8ddf5" /><polygon points="230,462 682,636 682,702 230,524" fill="#7fb0e2" /><polygon points="682,636 1372,376 1372,438 682,702" fill="#8ab7e5" /><polygon points="195,428 670,608 670,640 195,458" fill="#c3daf4" /><polygon points="670,608 1425,318 1425,346 670,640" fill="#d8e7f8" /><polygon points="575,165 1040,348 670,610 197,430" fill="#b3d1ee" /><polygon points="575,165 1040,348 1425,320 960,128" fill="#dce9f9" /><polygon points="900,210 1150,305 1330,290 1080,190" fill="#cfe1f6" /><polygon points="1040,346 1335,336 1425,320 670,612" fill="#d0e2f6" /><polygon points="1040,348 1330,338 830,545" fill="#a9c9ec" /><polygon points="1040,348 1330,338 1300,352 1045,366 860,536 830,545" fill="#c3daf4" /><polygon points="250,382 420,312 448,324 280,396" fill="#d3e4f7" /><polygon points="250,382 280,396 280,430 250,416" fill="#a9c9ee" /><polygon points="280,396 448,324 448,352 280,430" fill="#86b3c6" /><polygon points="770,182 940,112 968,124 800,196" fill="#d3e4f7" /><polygon points="770,182 800,196 800,230 770,216" fill="#a9c9ee" /><polygon points="800,196 968,124 968,152 800,230" fill="#86b3c6" /><polygon points="635,536 805,466 833,478 665,550" fill="#d3e4f7" /><polygon points="635,536 665,550 665,584 635,570" fill="#a9c9ee" /><polygon points="665,550 833,478 833,506 665,584" fill="#86b3c6" /><polygon points="1155,332 1325,262 1353,274 1185,346" fill="#d3e4f7" /><polygon points="1155,332 1185,346 1185,380 1155,366" fill="#a9c9ee" /><polygon points="1185,346 1353,274 1353,302 1185,380" fill="#86b3c6" /><g transform="rotate(-28 1070 775)"><ellipse cx="1070" cy="775" rx="158" ry="105" fill="#83859a"/><ellipse cx="1088" cy="782" rx="140" ry="96" fill="#b3b5c3"/><ellipse cx="1090" cy="790" rx="98" ry="66" fill="#9698aa"/><ellipse cx="1095" cy="794" rx="80" ry="54" fill="#b9bbc8"/><ellipse cx="1085" cy="800" rx="22" ry="26" fill="#6f7186"/></g><polygon points="1082,762 1112,758 1215,795 1200,838 1090,800" fill="#e8963a" /><ellipse cx="1288" cy="858" rx="108" ry="62" transform="rotate(24 1288 858)" fill="#e8963a"/><ellipse cx="1282" cy="846" rx="100" ry="52" transform="rotate(24 1282 846)" fill="#ee9f40"/><ellipse cx="1335" cy="885" rx="22" ry="26" transform="rotate(24 1335 885)" fill="#fbe3c0"/><ellipse cx="1322" cy="958" rx="42" ry="58" transform="rotate(15 1322 958)" fill="none" stroke="#e8963a" stroke-width="11"/><polygon points="1218,1022 1318,985 1425,1080 1418,1098 1390,1092 1390,1160 1255,1112 1255,1050 1225,1040" fill="#f2a53f" /><polygon points="1318,985 1425,1080 1418,1098 1310,1003" fill="#e8963a" /><polygon points="1290,1062 1348,1085 1348,1128 1290,1106" fill="#fbe3c0" /><path d="M1319,1073V1117 M1290,1084L1348,1107" stroke="#f2a53f" stroke-width="7"/><text transform="matrix(1 -0.4 0 1 904 606)" font-size="52" font-weight="bold" fill="#e9f2fc" letter-spacing="33">BANK</text><text transform="matrix(1 -0.1 0.15 1 1022 442)" font-size="74" font-weight="bold" fill="#e9f2fc">$</text></g>
<g transform="translate(870,2560) scale(0.1601)"><polygon points="395,265 635,355 635,440 395,350" fill="#16895f" /><path d="M395,274.4L635,364.4 M395,283.9L635,373.9 M395,293.3L635,383.3 M395,302.8L635,392.8 M395,312.2L635,402.2 M395,321.7L635,411.7 M395,331.1L635,421.1 M395,340.6L635,430.6 " stroke="#c0e8b2" stroke-width="3.5" fill="none"/><polygon points="635,355 1065,185 1065,270 635,440" fill="#1d9a6c" /><path d="M635,364.4L1065,194.4 M635,373.9L1065,203.9 M635,383.3L1065,213.3 M635,392.8L1065,222.8 M635,402.2L1065,232.2 M635,411.7L1065,241.7 M635,421.1L1065,251.1 M635,430.6L1065,260.6 " stroke="#c0e8b2" stroke-width="3.5" fill="none"/><polygon points="395,265 825,90 1065,185 635,355" fill="#1aab78" stroke="#c0e8b2" stroke-width="9" stroke-linejoin="round"/><ellipse cx="730" cy="222" rx="125" ry="50" transform="rotate(-3 730 222)" fill="#c5e6b4"/><text transform="matrix(0.93 0.38 -1.25 0.5 682 241)" font-size="110" font-weight="bold" fill="#1aab78" text-anchor="middle">$</text><polygon points="655,370 890,465 890,575 655,480" fill="#16895f" /><path d="M655,380.0L890,475.0 M655,390.0L890,485.0 M655,400.0L890,495.0 M655,410.0L890,505.0 M655,420.0L890,515.0 M655,430.0L890,525.0 M655,440.0L890,535.0 M655,450.0L890,545.0 M655,460.0L890,555.0 M655,470.0L890,565.0 " stroke="#c0e8b2" stroke-width="3.5" fill="none"/><polygon points="890,465 1325,290 1325,370 890,545" fill="#1d9a6c" /><path d="M890,473.9L1325,298.9 M890,482.8L1325,307.8 M890,491.7L1325,316.7 M890,500.6L1325,325.6 M890,509.4L1325,334.4 M890,518.3L1325,343.3 M890,527.2L1325,352.2 M890,536.1L1325,361.1 " stroke="#c0e8b2" stroke-width="3.5" fill="none"/><polygon points="655,370 1090,195 1325,290 890,465" fill="#1aab78" stroke="#c0e8b2" stroke-width="9" stroke-linejoin="round"/><ellipse cx="985" cy="330" rx="125" ry="50" fill="#c5e6b4"/><polygon points="115,460 605,655 605,753 115,558" fill="#16895f" /><path d="M115,468.9L605,663.9 M115,477.8L605,672.8 M115,486.7L605,681.7 M115,495.6L605,690.6 M115,504.5L605,699.5 M115,513.5L605,708.5 M115,522.4L605,717.4 M115,531.3L605,726.3 M115,540.2L605,735.2 M115,549.1L605,744.1 " stroke="#c0e8b2" stroke-width="3.5" fill="none"/><polygon points="605,655 860,548 860,646 605,753" fill="#1d9a6c" /><path d="M605,663.9L860,556.9 M605,672.8L860,565.8 M605,681.7L860,574.7 M605,690.6L860,583.6 M605,699.5L860,592.5 M605,708.5L860,601.5 M605,717.4L860,610.4 M605,726.3L860,619.3 M605,735.2L860,628.2 M605,744.1L860,637.1 " stroke="#c0e8b2" stroke-width="3.5" fill="none"/><polygon points="115,460 385,352 860,545 605,655" fill="#1aab78" stroke="#c0e8b2" stroke-width="9" stroke-linejoin="round"/><ellipse cx="490" cy="503" rx="140" ry="55" transform="rotate(2 490 503)" fill="#c5e6b4"/><text transform="matrix(0.93 0.38 -1.25 0.5 437 524)" font-size="120" font-weight="bold" fill="#1aab78" text-anchor="middle">$</text><polygon points="820,535 1290,335 1425,385 945,580" fill="#16895f" /><path d="M832,540L1304,340 M845,544L1317,345 M858,548L1330,350 M870,553L1344,355 M882,558L1358,360 M895,562L1371,365 M908,566L1384,370 M920,571L1398,375 M932,576L1412,380 " stroke="#c0e8b2" stroke-width="3.5" fill="none"/><polygon points="820,535 945,580 945,785 820,740" fill="#16895f" /><path d="M832,540V744 M845,544V749 M858,548V754 M870,553V758 M882,558V762 M895,562V767 M908,566V772 M920,571V776 M932,576V780 " stroke="#c0e8b2" stroke-width="3.5" fill="none"/><polygon points="945,580 1415,390 1415,585 945,780" fill="#1aab78" stroke="#c0e8b2" stroke-width="9" stroke-linejoin="round"/><ellipse cx="1185" cy="590" rx="105" ry="78" transform="rotate(-28 1185 590)" fill="#c5e6b4"/><text transform="matrix(1 -0.4 0 1 1187 655)" font-size="150" font-weight="bold" fill="#1aab78" text-anchor="middle">$</text><path d="M907,282 v28 a128,58 0 0 0 256,0 v-28 z" fill="#df8a2f"/><ellipse cx="1035" cy="282" rx="128" ry="58" fill="#f5a646"/><ellipse cx="1035" cy="282" rx="114" ry="50" fill="#f3a040"/><text transform="matrix(0.93 0.3 -1.2 0.5 995 299)" font-size="95" font-weight="bold" fill="#f7b863" text-anchor="middle">$</text><path d="M1272,662 v32 a128,58 0 0 0 256,0 v-32 z" fill="#df8a2f"/><ellipse cx="1400" cy="662" rx="128" ry="58" fill="#f5a646"/><ellipse cx="1400" cy="662" rx="114" ry="50" fill="#f3a040"/><text transform="matrix(0.93 0.3 -1.2 0.5 1360 679)" font-size="95" font-weight="bold" fill="#f7b863" text-anchor="middle">$</text><path d="M604,812 v18 a126,54 0 0 0 252,0 v-18 z" fill="#df8a2f"/><ellipse cx="730" cy="812" rx="126" ry="54" fill="#f5a646"/><ellipse cx="730" cy="812" rx="112" ry="46" fill="#f3a040"/><text transform="matrix(0.93 0.3 -1.2 0.5 690 829)" font-size="95" font-weight="bold" fill="#f7b863" text-anchor="middle">$</text><path d="M1014,802 v18 a126,54 0 0 0 252,0 v-18 z" fill="#df8a2f"/><ellipse cx="1140" cy="802" rx="126" ry="54" fill="#f5a646"/><ellipse cx="1140" cy="802" rx="112" ry="46" fill="#f3a040"/><text transform="matrix(0.93 0.3 -1.2 0.5 1100 819)" font-size="95" font-weight="bold" fill="#f7b863" text-anchor="middle">$</text></g>
<g transform="translate(540,3060) scale(0.38183)"><ellipse cx="810" cy="455" rx="770" ry="405" fill="#d3d3d3"/><path d="M1160.2,222.9 A461,204 0 0 0 526.7,205.7 v140 A461,204 0 0 1 1160.2,362.9 Z" fill="#10293a"/><path d="M526.7,205.7 A461,204 0 0 0 362.1,365.6 v140 A461,204 0 0 1 526.7,345.7 Z" fill="#7a2e2c"/><path d="M1250.4,438.4 A461,204 0 0 0 1160.2,222.9 v140 A461,204 0 0 1 1250.4,578.4 Z" fill="#336a78"/><path d="M91.0,412.0 A735,325 0 0 0 663.4,712.0 v140 A735,325 0 0 1 91.0,552.0 Z" fill="#122e1a"/><path d="M663.4,712.0 A735,325 0 0 0 1496.5,527.2 v140 A735,325 0 0 1 663.4,852.0 Z" fill="#9a7338"/><path d="M1362.5,158.4 A735,325 0 0 0 352.6,131.0 L526.7,205.7 A461,204 0 0 1 1160.2,222.9 Z" fill="#1f4b60"/><path d="M352.6,131.0 A735,325 0 0 0 90.0,380.0 L362.0,362.0 A461,204 0 0 1 526.7,205.7 Z" fill="#e45c4f"/><path d="M1504.1,504.4 A735,325 0 0 0 1362.5,158.4 L1160.2,222.9 A461,204 0 0 1 1248.9,440.1 Z" fill="#5ec2d6"/><path d="M91.0,412.0 A735,325 0 0 0 663.4,712.0 L721.7,576.0 A461,204 0 0 1 362.6,387.7 Z" fill="#12602f"/><path d="M663.4,712.0 A735,325 0 0 0 1496.5,527.2 L1244.1,460.0 A461,204 0 0 1 721.7,576.0 Z" fill="#fdbb5e"/><path d="M382,388 v26 a440,186 0 0 0 880,0 v-26 z" fill="#c99a26"/><path d="M382,395v22 M383,402v22 M384,408v22 M385,415v22 M387,421v22 M390,427v22 M393,434v22 M397,440v22 M401,446v22 M406,453v22 M411,459v22 M417,465v22 M423,471v22 M430,476v22 M437,482v22 M445,488v22 M453,493v22 M462,499v22 M471,504v22 M480,509v22 M490,514v22 M500,519v22 M511,524v22 M522,528v22 M533,532v22 M545,537v22 M557,541v22 M570,544v22 M582,548v22 M595,551v22 M609,555v22 M622,558v22 M636,561v22 M650,563v22 M664,566v22 M679,568v22 M693,570v22 M708,572v22 M723,573v22 M738,575v22 M753,576v22 M768,577v22 M784,577v22 M799,578v22 M814,578v22 M830,578v22 M845,578v22 M860,577v22 M876,577v22 M891,576v22 M906,575v22 M921,573v22 M936,572v22 M951,570v22 M965,568v22 M980,566v22 M994,563v22 M1008,561v22 M1022,558v22 M1035,555v22 M1049,551v22 M1062,548v22 M1074,544v22 M1087,541v22 M1099,537v22 M1111,532v22 M1122,528v22 M1133,524v22 M1144,519v22 M1154,514v22 M1164,509v22 M1173,504v22 M1182,499v22 M1191,493v22 M1199,488v22 M1207,482v22 M1214,476v22 M1221,471v22 M1227,465v22 M1233,459v22 M1238,453v22 M1243,446v22 M1247,440v22 M1251,434v22 M1254,427v22 M1257,421v22 M1259,415v22 M1260,408v22 M1261,402v22 M1262,395v22 " stroke="#b0821c" stroke-width="5" fill="none"/><ellipse cx="822" cy="388" rx="440" ry="186" fill="#f3d833"/><ellipse cx="822" cy="392" rx="398" ry="163" fill="#e3c22a"/><ellipse cx="822" cy="396" rx="385" ry="155" fill="#f8e04a"/><ellipse cx="822" cy="400" rx="372" ry="147" fill="#f2d832"/><text transform="matrix(0.629 0.307 -0.777 0.2486 622 459)" font-size="780" font-weight="bold" fill="#dfba25" stroke="#dfba25" stroke-width="32" stroke-linejoin="round" text-anchor="middle">$</text></g>
<path d="M1441,2389.5 V3380.7" stroke="#0a0a0a" stroke-width="4" stroke-dasharray="36.5 29.3" stroke-dashoffset="16.3" fill="none"/>
<text x="1790.0" y="2430.8" font-size="56.8" font-weight="bold" textLength="249.7" lengthAdjust="spacingAndGlyphs" stroke="#000" stroke-width="1.5" stroke-linejoin="round">Inward FDI</text>
<text x="1493.1" y="2504.8" font-size="56.1" font-weight="bold" textLength="149.7" lengthAdjust="spacingAndGlyphs" stroke="#000" stroke-width="1.3" stroke-linejoin="round">from 1</text>
<text x="1645.5" y="2471.4" font-size="35.9" textLength="26.4" lengthAdjust="spacingAndGlyphs" stroke="#000" stroke-width="0.1" stroke-linejoin="round">st</text>
<text x="1674.7" y="2504.8" font-size="56.1" font-weight="bold" textLength="315.7" lengthAdjust="spacingAndGlyphs" stroke="#000" stroke-width="1.3" stroke-linejoin="round">January to 31</text>
<text x="1996.5" y="2471.5" font-size="36.0" textLength="33.0" lengthAdjust="spacingAndGlyphs">th</text>
<text x="2023.6" y="2504.9" font-size="56.3" font-weight="bold" textLength="314.8" lengthAdjust="spacingAndGlyphs" stroke="#000" stroke-width="1.2" stroke-linejoin="round">January 2026</text>
<rect x="1517" y="2566.6" width="794" height="372" rx="52" fill="#2d6f77"/>
<text x="1556.8" y="2658.7" font-size="66.5" font-weight="bold" fill="#fff" textLength="734.3" lengthAdjust="spacingAndGlyphs" stroke="#fff" stroke-width="1.7" stroke-linejoin="round">Total registered inward FDI</text>
<text x="1633.6" y="2801.9" font-size="108.3" fill="#fff" textLength="144.8" lengthAdjust="spacingAndGlyphs" stroke="#fff" stroke-width="1.2" stroke-linejoin="round">2.58</text>
<text x="1820.5" y="2761.4" font-size="42.7" font-weight="bold" fill="#fbf8d0" textLength="144.4" lengthAdjust="spacingAndGlyphs" stroke="#fbf8d0" stroke-width="0.9" stroke-linejoin="round">bill USD</text>
<polygon points="1983.7,2814.1 2074.3,2814.1 2028.7,2886.2" fill="#fff"/>
<text x="2087.3" y="2877.2" font-size="88.2" fill="#fff" textLength="146.4" lengthAdjust="spacingAndGlyphs" stroke="#fff" stroke-width="2.6" stroke-linejoin="round">40.6</text>
<text x="2236.8" y="2877.0" font-size="43.3" fill="#fff" textLength="32.6" lengthAdjust="spacingAndGlyphs" stroke="#fff" stroke-width="1.2" stroke-linejoin="round">%</text>
<rect x="1527.5" y="2983" width="780.5" height="374" rx="50" fill="#6aa043"/>
<text x="1569.5" y="3075.0" font-size="67.6" font-weight="bold" fill="#fff" textLength="530.0" lengthAdjust="spacingAndGlyphs" stroke="#fff" stroke-width="2.0" stroke-linejoin="round">Total disbursed FDI</text>
<text x="1644.6" y="3231.4" font-size="108.3" fill="#fff" textLength="143.8" lengthAdjust="spacingAndGlyphs" stroke="#fff" stroke-width="1.2" stroke-linejoin="round">1.68</text>
<text x="1822.2" y="3187.2" font-size="42.7" font-weight="bold" fill="#fbf8d0" textLength="145.0" lengthAdjust="spacingAndGlyphs" stroke="#fbf8d0" stroke-width="0.9" stroke-linejoin="round">bill USD</text>
<polygon points="1978.8,3299.0 2068.1,3299.0 2023.8,3226.4" fill="#fff"/>
<text x="2070.3" y="3294.7" font-size="87.2" fill="#fff" textLength="149.4" lengthAdjust="spacingAndGlyphs" stroke="#fff" stroke-width="2.6" stroke-linejoin="round">11.3</text>
<text x="2222.6" y="3294.7" font-size="43.3" fill="#fff" textLength="32.8" lengthAdjust="spacingAndGlyphs" stroke="#fff" stroke-width="1.2" stroke-linejoin="round">%</text>
</svg>
</body></html>
